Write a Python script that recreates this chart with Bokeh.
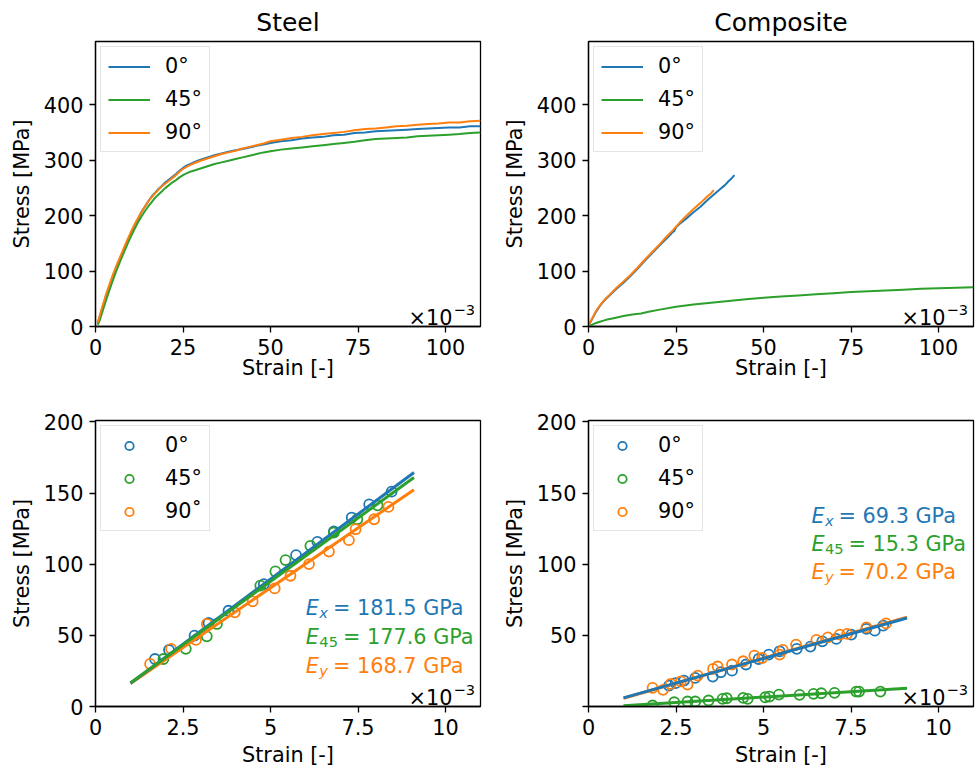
from bokeh.plotting import figure
from bokeh.models import (Legend, LegendItem, Label, FixedTicker,
                          CustomJSTickFormatter, Range1d)
from bokeh.layouts import column, row
from bokeh.embed import file_html
from bokeh.resources import INLINE

# ---------------- data (strain in units of 1e-3, stress in MPa) ----------------
steel_strain = [0.6, 1, 1.5, 2, 2.5, 3, 4, 5, 6, 7, 8, 9, 10, 11, 12, 13, 14, 15, 16, 17,
                18, 19, 20, 21, 22, 23, 24, 25, 26, 27, 28, 30, 32, 34, 36, 38, 40, 42, 44,
                46, 48, 50, 53, 56, 59, 62, 65, 68, 71, 74, 77, 80, 83, 86, 89, 92, 95, 98,
                101, 104, 107, 110]
steel_0 = [6, 13, 24, 34, 44, 55, 73, 91, 108, 122, 137, 152, 167, 180, 192, 205, 215, 225,
           234, 241, 248, 254, 260, 265, 270, 275, 281, 286, 290, 293, 296, 301, 305, 309,
           312, 315, 318, 320, 323, 326, 328, 331, 334, 336, 339, 341, 342, 345, 346, 349,
           350, 352, 353, 354, 355, 356, 357, 358, 359, 359, 361, 361]
steel_45 = [3, 8, 17, 27, 37, 47, 66, 84, 101, 117, 132, 147, 161, 174, 186, 197, 207, 216,
            224, 232, 238, 244, 250, 255, 260, 264, 269, 273, 276, 279, 281, 285, 289, 293,
            296, 299, 302, 305, 308, 311, 314, 316, 319, 321, 323, 325, 327, 329, 331, 333,
            336, 338, 339, 340, 341, 343, 344, 345, 346, 347, 349, 350]
steel_90 = [7, 15, 26, 37, 47, 58, 76, 94, 110, 125, 140, 155, 169, 182, 194, 205, 215, 225,
            233, 240, 247, 253, 258, 263, 268, 273, 279, 284, 288, 291, 294, 299, 303, 307,
            311, 314, 317, 321, 324, 327, 330, 334, 337, 340, 342, 345, 347, 349, 351, 354,
            356, 357, 359, 361, 362, 364, 365, 366, 368, 368, 370, 371]

comp_strain_0 = [0, 0.5, 1, 1.5, 2, 3, 4, 5, 6, 8, 10, 12, 14, 16, 18, 20, 22, 23, 24, 24.5,
                 25, 26, 27, 28, 30, 32, 34, 36, 38, 39, 40, 41, 41.7]
comp_0 = [0, 7, 13, 19, 25, 35, 43, 50, 56, 68, 79, 91, 104, 118, 131, 144, 157, 163, 170,
          172, 179, 185, 190, 195, 206, 216, 228, 239, 250, 255, 262, 268, 273]
comp_strain_45 = [0, 1, 2, 3, 5, 7.5, 10, 12.5, 15, 17.5, 20, 25, 30, 35, 40, 45, 50, 55, 60,
                  65, 70, 75, 80, 85, 90, 95, 100, 105, 110]
comp_45 = [0, 3, 6, 8, 12, 15.5, 19, 21.5, 23.5, 27, 30, 35.5, 39.5, 43, 46, 49, 52, 54, 56,
           58, 60, 62, 63.5, 65, 66.5, 68, 69, 70, 71]
comp_strain_90 = [0, 0.5, 1, 1.5, 2, 3, 4, 5, 6, 8, 10, 12, 14, 16, 18, 20, 22, 24, 26, 28,
                  30, 32, 34, 35, 35.8]
comp_90 = [0, 8, 14, 20, 26, 36, 44, 51, 57, 70, 81, 93, 106, 120, 133, 146, 160, 173, 187,
           200, 212, 223, 235, 240, 246]

# elastic region samples (steel)
se_x0 = [1.70, 2.10, 2.83, 3.23, 3.80, 4.81, 5.73, 6.34, 6.81, 7.32, 7.82, 8.46]
se_y0 = [33.4, 39.7, 49.8, 58.7, 67.3, 86.0, 106.4, 115.7, 123.0, 132.8, 142.1, 151.0]
se_x45 = [1.94, 2.58, 3.18, 3.47, 4.71, 5.14, 5.43, 6.14, 6.81, 7.48, 8.06]
se_y45 = [33.4, 40.5, 49.3, 58.0, 84.9, 94.9, 102.9, 112.9, 122.2, 131.6, 141.4]
se_x90 = [1.56, 2.16, 2.87, 3.18, 3.98, 4.49, 5.12, 5.57, 6.10, 6.67, 7.24, 7.43, 7.96, 8.37]
se_y90 = [29.9, 40.5, 46.8, 58.0, 66.2, 73.9, 83.0, 91.9, 100.1, 108.9, 116.9, 124.6, 131.6, 140.3]

# elastic region samples (composite)
ce_x0 = [2.30, 2.49, 2.73, 3.05, 3.55, 3.78, 4.10, 4.50, 4.86, 5.15, 5.46, 5.95, 6.34, 6.68,
         7.08, 7.51, 7.94, 8.18, 8.42]
ce_y0 = [14.7, 16.4, 18.2, 20.1, 21.0, 24.1, 25.2, 29.5, 33.4, 36.5, 38.8, 40.5, 42.1, 45.8,
         47.5, 50.5, 54.5, 53.3, 56.8]
ce_x45 = [1.83, 2.45, 2.83, 3.05, 3.43, 3.83, 3.95, 4.42, 4.55, 5.05, 5.17, 5.44, 6.03, 6.43,
          6.65, 7.03, 7.65, 7.73, 8.34]
ce_y45 = [0.7, 3.0, 3.5, 3.5, 4.2, 5.4, 5.8, 6.1, 5.4, 6.5, 7.0, 8.4, 8.2, 8.9, 9.3, 9.6,
          10.5, 10.5, 10.5]
ce_x90 = [1.83, 2.13, 2.35, 2.64, 2.83, 3.12, 3.56, 3.69, 4.10, 4.42, 4.74, 4.96, 5.46, 5.55,
          5.93, 6.51, 6.84, 7.18, 7.39, 7.94, 8.50]
ce_y90 = [13.1, 11.7, 15.9, 17.7, 15.4, 21.7, 26.4, 28.1, 29.5, 31.8, 35.8, 34.1, 36.5, 39.8,
          43.5, 46.8, 48.6, 50.5, 51.0, 55.6, 58.4]

# linear fits
fit_x = [1.0, 9.1]
sfit_0 = [16.3, 164.5]
sfit_45 = [16.6, 161.0]
sfit_90 = [16.1, 152.4]
cfit_0 = [6.1, 62.2]
cfit_45 = [0.5, 12.9]
cfit_90 = [5.8, 62.8]

modulus_steel = ["181.5", "177.6", "168.7"]
modulus_comp = ["69.3", "15.3", "70.2"]
subs = ["x", "45", "y"]

top_xticks = [0, 25, 50, 75, 100]
top_xlabels = ["0", "25", "50", "75", "100"]
top_yticks = [0, 100, 200, 300, 400]
top_ylabels = ["0", "100", "200", "300", "400"]
bot_xticks = [0, 2.5, 5, 7.5, 10]
bot_xlabels = ["0", "2.5", "5", "7.5", "10"]
bot_yticks = [0, 50, 100, 150, 200]
bl_ylabels = ["0", "50", "100", "150", "200"]
br_ylabels = ["", "50", "100", "150", "200"]

# ---------------- styling ----------------
FONT = "DejaVu Sans"
FS = "20.8px"
FS_SUB = "14.6px"
BLUE, ORANGE, GREEN = "#1f77b4", "#ff7f0e", "#2ca02c"


def make_fig(width, height, mbl, mbr, mbt, mbb, xr, yr, xt, xl, yt, yl, xlab_standoff,
             title=None):
    p = figure(width=width, height=height, x_range=Range1d(*xr), y_range=Range1d(*yr),
               output_backend="svg", toolbar_location=None,
               min_border_left=mbl, min_border_right=mbr,
               min_border_top=mbt, min_border_bottom=mbb)
    p.grid.visible = False
    p.outline_line_color = "black"
    p.outline_line_width = 1.3
    p.outline_line_alpha = 1.0
    p.background_fill_color = "white"
    p.border_fill_color = "white"
    for ax, ticks, labels, lab, so in ((p.xaxis[0], xt, xl, "Strain [-]", xlab_standoff),
                                       (p.yaxis[0], yt, yl, "Stress [MPa]", 7)):
        ax.ticker = FixedTicker(ticks=ticks, minor_ticks=[])
        ax.formatter = CustomJSTickFormatter(
            args=dict(t=ticks, l=labels),
            code="const i = t.indexOf(tick); return i < 0 ? '' : l[i];")
        ax.major_tick_in = 0
        ax.major_tick_out = 6
        ax.minor_tick_in = 0
        ax.minor_tick_out = 0
        ax.major_tick_line_width = 1.3
        ax.axis_line_width = 1.3
        ax.major_label_text_font = FONT
        ax.major_label_text_font_size = FS
        ax.major_label_text_color = "black"
        ax.major_label_standoff = 6
        ax.axis_label = lab
        ax.axis_label_text_font = FONT
        ax.axis_label_text_font_size = FS
        ax.axis_label_text_font_style = "normal"
        ax.axis_label_text_color = "black"
        ax.axis_label_standoff = so
    if title:
        p.title.text = title
        p.title.align = "center"
        p.title.text_font = FONT
        p.title.text_font_size = "25px"
        p.title.text_font_style = "normal"
        p.title.text_color = "black"
    return p


def add_offset_text(p, xmax, ymin):
    p.add_layout(Label(x=xmax, y=ymin, x_offset=-28, y_offset=9, text="×10",
                       text_align="right", text_baseline="alphabetic",
                       text_font=FONT, text_font_size=FS, text_color="black"))
    p.add_layout(Label(x=xmax, y=ymin, x_offset=-27, y_offset=17, text="−3",
                       text_align="left", text_baseline="alphabetic",
                       text_font=FONT, text_font_size=FS_SUB, text_color="black"))


def add_legend(p, renderers, labels):
    leg = Legend(items=[LegendItem(label=l, renderers=[r]) for l, r in zip(labels, renderers)],
                 location="top_left")
    leg.margin = 5
    leg.padding = 7
    leg.spacing = 9
    leg.glyph_width = 42
    leg.glyph_height = 21
    leg.label_height = 21
    leg.label_standoff = 15
    leg.label_text_font = FONT
    leg.label_text_font_size = FS
    leg.label_text_color = "black"
    leg.border_line_color = "#cccccc"
    leg.border_line_width = 1.3
    leg.background_fill_alpha = 0.8
    p.add_layout(leg)


def add_moduli(p, x0, ys, values):
    colors = [BLUE, GREEN, ORANGE]
    for y, v, s, c in zip(ys, values, subs, colors):
        sub_w = 18.6 if s == "45" else 8.6
        common = dict(x=x0, y=y, text_baseline="alphabetic", text_font=FONT, text_color=c)
        p.add_layout(Label(text="E", text_font_style="italic", text_font_size=FS, **common))
        p.add_layout(Label(text=s, x_offset=13.5, y_offset=-4.5,
                           text_font_style="normal" if s == "45" else "italic",
                           text_font_size=FS_SUB, **common))
        p.add_layout(Label(text="= " + v + " GPa", x_offset=13.5 + sub_w + 5,
                           text_font_size=FS, **common))


TOP_X = (0, 110)
TOP_Y = (0, 514)
BOT_X = (0, 11)
BOT_Y = (0, 201)

# ---- top-left: steel curves
p1 = make_fig(488, 390, 95, 8, 39, 64, TOP_X, TOP_Y, top_xticks, top_xlabels,
              top_yticks, top_ylabels, -2, "Steel")
r1b = p1.line(steel_strain, steel_0, color=BLUE, line_width=2)
r1g = p1.line(steel_strain, steel_45, color=GREEN, line_width=2)
r1o = p1.line(steel_strain, steel_90, color=ORANGE, line_width=2)
add_legend(p1, [r1b, r1g, r1o], ["0°", "45°", "90°"])
add_offset_text(p1, TOP_X[1], TOP_Y[0])

# ---- top-right: composite curves
p2 = make_fig(489, 390, 100, 4, 39, 64, TOP_X, TOP_Y, top_xticks, top_xlabels,
              top_yticks, top_ylabels, -2, "Composite")
r2b = p2.line(comp_strain_0, comp_0, color=BLUE, line_width=2)
r2g = p2.line(comp_strain_45, comp_45, color=GREEN, line_width=2)
r2o = p2.line(comp_strain_90, comp_90, color=ORANGE, line_width=2)
add_legend(p2, [r2b, r2g, r2o], ["0°", "45°", "90°"])
add_offset_text(p2, TOP_X[1], TOP_Y[0])

# ---- bottom-left: steel elastic fits
p3 = make_fig(488, 383, 95, 8, 30, 67, BOT_X, BOT_Y, bot_xticks, bot_xlabels,
              bot_yticks, bl_ylabels, 5)
mk = dict(size=10, fill_color=None, line_width=1.8)
s3b = p3.scatter(se_x0, se_y0, line_color=BLUE, **mk)
s3g = p3.scatter(se_x45, se_y45, line_color=GREEN, **mk)
s3o = p3.scatter(se_x90, se_y90, line_color=ORANGE, **mk)
p3.line(fit_x, sfit_90, color=ORANGE, line_width=3)
p3.line(fit_x, sfit_0, color=BLUE, line_width=3)
p3.line(fit_x, sfit_45, color=GREEN, line_width=3)
add_legend(p3, [s3b, s3g, s3o], ["0°", "45°", "90˚"])
add_moduli(p3, 6.01, [69.1, 48.5, 28.8], modulus_steel)
add_offset_text(p3, BOT_X[1], BOT_Y[0])

# ---- bottom-right: composite elastic fits
p4 = make_fig(489, 383, 100, 4, 30, 67, BOT_X, BOT_Y, bot_xticks, bot_xlabels,
              bot_yticks, br_ylabels, 5)
s4b = p4.scatter(ce_x0, ce_y0, line_color=BLUE, **mk)
s4g = p4.scatter(ce_x45, ce_y45, line_color=GREEN, **mk)
s4o = p4.scatter(ce_x90, ce_y90, line_color=ORANGE, **mk)
p4.line(fit_x, cfit_90, color=ORANGE, line_width=3)
p4.line(fit_x, cfit_0, color=BLUE, line_width=3)
p4.line(fit_x, cfit_45, color=GREEN, line_width=3)
add_legend(p4, [s4b, s4g, s4o], ["0°", "45°", "90°"])
add_moduli(p4, 6.37, [134.0, 114.0, 94.2], modulus_comp)
add_offset_text(p4, BOT_X[1], BOT_Y[0])

layout = column(row(p1, p2), row(p3, p4))
open("out.html", "w").write(file_html(layout, INLINE))
